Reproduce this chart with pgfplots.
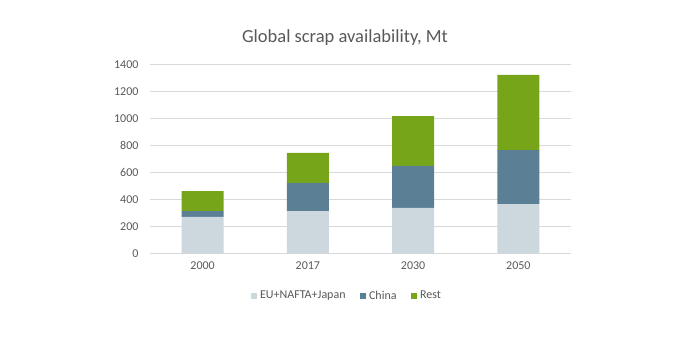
\documentclass[border=0pt]{standalone}
\usepackage{pgfplots}
\pgfplotsset{compat=1.18}
\usepackage{fontspec}
\setmainfont{Carlito}
\definecolor{cEU}{HTML}{CDD7DE}
\definecolor{cCN}{HTML}{5B7F95}
\definecolor{cRest}{HTML}{76A51A}
\definecolor{txt}{HTML}{595959}
\definecolor{gridc}{HTML}{D9D9D9}
\begin{document}
\begin{tikzpicture}[x=1pt,y=1pt]
\useasboundingbox (0,0) rectangle (690,350);
\node[text=txt,font=\fontsize{18.5}{20}\selectfont] at (345,312) {Global scrap availability, Mt};
\begin{axis}[
  at={(150pt,96.7pt)}, anchor=south west,
  scale only axis, width=421pt, height=189pt,
  ybar stacked, bar width=42pt,
  xmin=-0.5, xmax=3.5, ymin=0, ymax=1400,
  xtick={0,1,2,3}, xticklabels={2000,2017,2030,2050},
  ytick={0,200,...,1400},
  axis line style={draw=none},
  tick style={draw=none},
  xmajorgrids=false, ymajorgrids=true,
  grid style={draw=gridc, line width=0.8pt},
  ticklabel style={text=txt, font=\fontsize{12}{14}\selectfont},
  /pgf/number format/assume math mode=true,
  /pgf/number format/1000 sep={},
  yticklabel style={xshift=-8pt},
  xticklabel style={yshift=-5pt},
  legend style={at={(0.468,-0.225)}, anchor=center, draw=none, legend columns=3,
    font=\fontsize{12}{14}\selectfont, text=txt,
    /tikz/every even column/.append style={column sep=12.5pt}},
  legend image code/.code={\fill[#1] (0pt,-2.75pt) rectangle (5.5pt,2.75pt); \path (0pt,0pt) -- (7pt,0pt);},
]
\addplot[fill=cEU, draw=none] coordinates {(0,270) (1,313) (2,336) (3,365)};
\addplot[fill=cCN, draw=none] coordinates {(0,43) (1,208) (2,311) (3,400)};
\addplot[fill=cRest, draw=none] coordinates {(0,148) (1,222) (2,370) (3,556)};
\legend{EU+NAFTA+Japan, China, Rest}
\end{axis}
\end{tikzpicture}
\end{document}
